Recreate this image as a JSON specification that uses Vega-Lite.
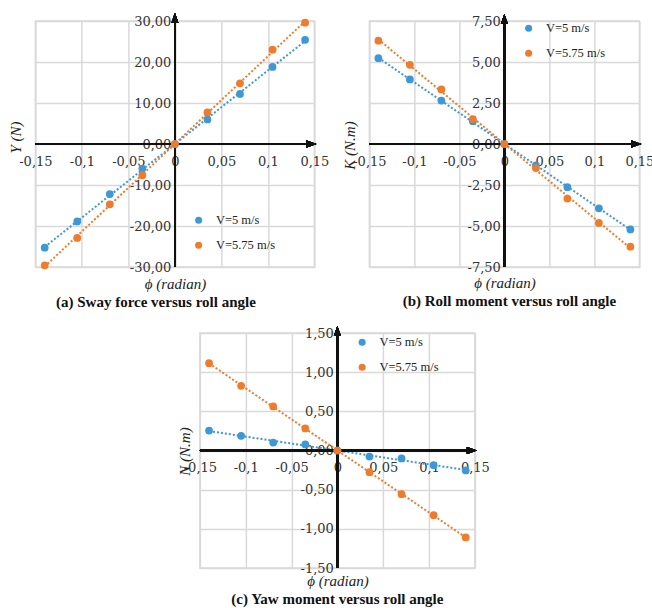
{
  "$schema": "https://vega.github.io/schema/vega-lite/v6.json",
  "background": "white",
  "padding": {"left": 7, "top": 12, "right": 5, "bottom": 5},
  "spacing": 14,
  "center": true,
  "resolve": {"scale": {"color": "independent"}, "legend": {"color": "independent"}},
  "datasets": {
    "sway": [
      {"phi": -0.14, "speed": "V=5 m/s", "value": -25.3},
      {"phi": -0.105, "speed": "V=5 m/s", "value": -18.9},
      {"phi": -0.07, "speed": "V=5 m/s", "value": -12.2},
      {"phi": -0.035, "speed": "V=5 m/s", "value": -6.0},
      {"phi": 0, "speed": "V=5 m/s", "value": 0},
      {"phi": 0.035, "speed": "V=5 m/s", "value": 6.0},
      {"phi": 0.07, "speed": "V=5 m/s", "value": 12.2},
      {"phi": 0.105, "speed": "V=5 m/s", "value": 18.8},
      {"phi": 0.14, "speed": "V=5 m/s", "value": 25.4},
      {"phi": -0.14, "speed": "V=5.75 m/s", "value": -29.6},
      {"phi": -0.105, "speed": "V=5.75 m/s", "value": -22.9},
      {"phi": -0.07, "speed": "V=5.75 m/s", "value": -14.7},
      {"phi": -0.035, "speed": "V=5.75 m/s", "value": -7.6},
      {"phi": 0, "speed": "V=5.75 m/s", "value": 0},
      {"phi": 0.035, "speed": "V=5.75 m/s", "value": 7.7},
      {"phi": 0.07, "speed": "V=5.75 m/s", "value": 14.8},
      {"phi": 0.105, "speed": "V=5.75 m/s", "value": 23.0},
      {"phi": 0.14, "speed": "V=5.75 m/s", "value": 29.6}
    ],
    "roll": [
      {"phi": -0.14, "speed": "V=5 m/s", "value": 5.23},
      {"phi": -0.105, "speed": "V=5 m/s", "value": 3.94},
      {"phi": -0.07, "speed": "V=5 m/s", "value": 2.65},
      {"phi": -0.035, "speed": "V=5 m/s", "value": 1.39},
      {"phi": 0, "speed": "V=5 m/s", "value": 0},
      {"phi": 0.035, "speed": "V=5 m/s", "value": -1.31},
      {"phi": 0.07, "speed": "V=5 m/s", "value": -2.63},
      {"phi": 0.105, "speed": "V=5 m/s", "value": -3.92},
      {"phi": 0.14, "speed": "V=5 m/s", "value": -5.21},
      {"phi": -0.14, "speed": "V=5.75 m/s", "value": 6.3},
      {"phi": -0.105, "speed": "V=5.75 m/s", "value": 4.83},
      {"phi": -0.07, "speed": "V=5.75 m/s", "value": 3.33},
      {"phi": -0.035, "speed": "V=5.75 m/s", "value": 1.52},
      {"phi": 0, "speed": "V=5.75 m/s", "value": 0},
      {"phi": 0.035, "speed": "V=5.75 m/s", "value": -1.47},
      {"phi": 0.07, "speed": "V=5.75 m/s", "value": -3.33},
      {"phi": 0.105, "speed": "V=5.75 m/s", "value": -4.81},
      {"phi": 0.14, "speed": "V=5.75 m/s", "value": -6.26}
    ],
    "yaw": [
      {"phi": -0.14, "speed": "V=5 m/s", "value": 0.255},
      {"phi": -0.105, "speed": "V=5 m/s", "value": 0.187},
      {"phi": -0.07, "speed": "V=5 m/s", "value": 0.102},
      {"phi": -0.035, "speed": "V=5 m/s", "value": 0.077},
      {"phi": 0, "speed": "V=5 m/s", "value": 0},
      {"phi": 0.035, "speed": "V=5 m/s", "value": -0.077},
      {"phi": 0.07, "speed": "V=5 m/s", "value": -0.102},
      {"phi": 0.105, "speed": "V=5 m/s", "value": -0.187},
      {"phi": 0.14, "speed": "V=5 m/s", "value": -0.255},
      {"phi": -0.14, "speed": "V=5.75 m/s", "value": 1.115},
      {"phi": -0.105, "speed": "V=5.75 m/s", "value": 0.826},
      {"phi": -0.07, "speed": "V=5.75 m/s", "value": 0.562},
      {"phi": -0.035, "speed": "V=5.75 m/s", "value": 0.281},
      {"phi": 0, "speed": "V=5.75 m/s", "value": 0},
      {"phi": 0.035, "speed": "V=5.75 m/s", "value": -0.277},
      {"phi": 0.07, "speed": "V=5.75 m/s", "value": -0.557},
      {"phi": 0.105, "speed": "V=5.75 m/s", "value": -0.826},
      {"phi": 0.14, "speed": "V=5.75 m/s", "value": -1.11}
    ]
  },
  "vconcat": [
    {
      "hconcat": [
        {
          "width": 279,
          "height": 246,
          "data": {"name": "sway"},
          "title": {"text": "(a) Sway force versus roll angle", "orient": "bottom", "frame": "group", "offset": 4, "dx": -19},
          "layer": [
            {
              "mark": {"type": "line", "strokeDash": [2, 2], "strokeWidth": 2},
              "transform": [{"regression": "value", "on": "phi", "groupby": ["speed"]}],
              "encoding": {
                "x": {"field": "phi", "type": "quantitative", "scale": {"domain": [-0.15, 0.15], "nice": false, "zero": false},
                      "axis": {"values": [-0.15, -0.1, -0.05, 0, 0.05, 0.1, 0.15], "tickCount": 10, "format": ".2~f", "labelOverlap": false, "offset": -123, "title": "ϕ (radian)", "titleY": 139}},
                "y": {"field": "value", "type": "quantitative", "scale": {"domain": [-30, 30], "nice": false},
                      "axis": {"values": [-30, -20, -10, 0, 10, 20, 30], "tickCount": 10, "format": ".2f", "labelOverlap": false, "offset": -139.5, "title": "Y (N)", "titleX": -159.5, "titleY": 116}},
                "stroke": {"field": "speed", "type": "nominal", "scale": {"domain": ["V=5 m/s", "V=5.75 m/s"], "range": ["#3d98d8", "#ef7b2d"]}, "legend": null}
              }
            },
            {"mark": {"type": "rule", "color": "#111", "strokeWidth": 1.6}, "encoding": {"x": {"datum": 0}}},
            {"mark": {"type": "rule", "color": "#111", "strokeWidth": 1.6}, "encoding": {"y": {"datum": 0}}},
            {"mark": {"type": "point", "shape": "M0,-1L0.7,1L-0.7,1Z", "size": 100, "filled": true, "color": "#111", "opacity": 1, "yOffset": -3},
             "encoding": {"x": {"datum": 0}, "y": {"datum": 30}}},
            {"mark": {"type": "point", "shape": "M1,0L-1,-0.7L-1,0.7Z", "size": 100, "filled": true, "color": "#111", "opacity": 1, "xOffset": -3},
             "encoding": {"x": {"datum": 0.15}, "y": {"datum": 0}}},
            {
              "mark": {"type": "point", "filled": true, "size": 60, "opacity": 1},
              "encoding": {
                "x": {"field": "phi", "type": "quantitative"},
                "y": {"field": "value", "type": "quantitative"},
                "color": {"field": "speed", "type": "nominal", "scale": {"domain": ["V=5 m/s", "V=5.75 m/s"], "range": ["#3d98d8", "#ef7b2d"]},
                          "legend": {"legendX": 157, "legendY": 193}}
              }
            }
          ]
        },
        {
          "width": 270,
          "height": 246,
          "data": {"name": "roll"},
          "title": {"text": "(b) Roll moment versus roll angle", "orient": "bottom", "frame": "group", "offset": 4, "dx": 5},
          "layer": [
            {
              "mark": {"type": "line", "strokeDash": [2, 2], "strokeWidth": 2},
              "transform": [{"regression": "value", "on": "phi", "groupby": ["speed"]}],
              "encoding": {
                "x": {"field": "phi", "type": "quantitative", "scale": {"domain": [-0.15, 0.15], "nice": false, "zero": false},
                      "axis": {"values": [-0.15, -0.1, -0.05, 0, 0.05, 0.1, 0.15], "tickCount": 10, "format": ".2~f", "labelOverlap": false, "offset": -123, "title": "ϕ (radian)", "titleY": 138}},
                "y": {"field": "value", "type": "quantitative", "scale": {"domain": [-7.5, 7.5], "nice": false},
                      "axis": {"values": [-7.5, -5, -2.5, 0, 2.5, 5, 7.5], "tickCount": 10, "format": ".2f", "labelOverlap": false, "offset": -135, "title": "K (N.m)", "titleX": -155, "titleY": 124}},
                "stroke": {"field": "speed", "type": "nominal", "scale": {"domain": ["V=5 m/s", "V=5.75 m/s"], "range": ["#3d98d8", "#ef7b2d"]}, "legend": null}
              }
            },
            {"mark": {"type": "rule", "color": "#111", "strokeWidth": 1.6}, "encoding": {"x": {"datum": 0}}},
            {"mark": {"type": "rule", "color": "#111", "strokeWidth": 1.6}, "encoding": {"y": {"datum": 0}}},
            {"mark": {"type": "point", "shape": "M0,-1L0.7,1L-0.7,1Z", "size": 100, "filled": true, "color": "#111", "opacity": 1, "yOffset": -2},
             "encoding": {"x": {"datum": 0}, "y": {"datum": 7.5}}},
            {"mark": {"type": "point", "shape": "M1,0L-1,-0.7L-1,0.7Z", "size": 100, "filled": true, "color": "#111", "opacity": 1, "xOffset": -3},
             "encoding": {"x": {"datum": 0.15}, "y": {"datum": 0}}},
            {
              "mark": {"type": "point", "filled": true, "size": 60, "opacity": 1},
              "encoding": {
                "x": {"field": "phi", "type": "quantitative"},
                "y": {"field": "value", "type": "quantitative"},
                "color": {"field": "speed", "type": "nominal", "scale": {"domain": ["V=5 m/s", "V=5.75 m/s"], "range": ["#3d98d8", "#ef7b2d"]},
                          "legend": {"legendX": 153, "legendY": 1}}
              }
            }
          ]
        }
      ],
      "spacing": 55,
      "bounds": "flush",
      "resolve": {"scale": {"color": "independent"}, "legend": {"color": "independent"}}
    },
    {
      "width": 275,
      "height": 235,
      "data": {"name": "yaw"},
      "title": {"text": "(c) Yaw moment versus roll angle", "orient": "bottom", "frame": "group", "offset": 3, "dx": 0},
      "layer": [
        {
          "mark": {"type": "line", "strokeDash": [2, 2], "strokeWidth": 2},
          "transform": [{"regression": "value", "on": "phi", "groupby": ["speed"]}],
          "encoding": {
            "x": {"field": "phi", "type": "quantitative", "scale": {"domain": [-0.15, 0.15], "nice": false, "zero": false},
                  "axis": {"values": [-0.15, -0.1, -0.05, 0, 0.05, 0.1, 0.15], "tickCount": 10, "format": ".2~f", "labelOverlap": false, "offset": -117.5, "title": "ϕ (radian)", "titleY": 130}},
            "y": {"field": "value", "type": "quantitative", "scale": {"domain": [-1.5, 1.5], "nice": false},
                  "axis": {"values": [-1.5, -1, -0.5, 0, 0.5, 1, 1.5], "tickCount": 10, "format": ".2f", "labelOverlap": false, "offset": -137.5, "title": "N (N.m)", "titleX": -152.5, "titleY": 118}},
            "stroke": {"field": "speed", "type": "nominal", "scale": {"domain": ["V=5 m/s", "V=5.75 m/s"], "range": ["#3d98d8", "#ef7b2d"]}, "legend": null}
          }
        },
        {"mark": {"type": "rule", "color": "#111", "strokeWidth": 1.6}, "encoding": {"x": {"datum": 0}}},
        {"mark": {"type": "rule", "color": "#111", "strokeWidth": 1.6}, "encoding": {"y": {"datum": 0}}},
        {"mark": {"type": "point", "shape": "M0,-1L0.7,1L-0.7,1Z", "size": 100, "filled": true, "color": "#111", "opacity": 1, "yOffset": -2},
         "encoding": {"x": {"datum": 0}, "y": {"datum": 1.5}}},
        {"mark": {"type": "point", "shape": "M1,0L-1,-0.7L-1,0.7Z", "size": 100, "filled": true, "color": "#111", "opacity": 1, "xOffset": -3},
         "encoding": {"x": {"datum": 0.15}, "y": {"datum": 0}}},
        {
          "mark": {"type": "point", "filled": true, "size": 60, "opacity": 1},
          "encoding": {
            "x": {"field": "phi", "type": "quantitative"},
            "y": {"field": "value", "type": "quantitative"},
            "color": {"field": "speed", "type": "nominal", "scale": {"domain": ["V=5 m/s", "V=5.75 m/s"], "range": ["#3d98d8", "#ef7b2d"]},
                      "legend": {"legendX": 156, "legendY": 3}}
          }
        }
      ]
    }
  ],
  "config": {
    "locale": {"number": {"decimal": ",", "thousands": ".", "grouping": [3], "currency": ["", ""], "minus": "-"}},
    "view": {"stroke": "#d9d9d9", "strokeWidth": 1.5},
    "axis": {
      "grid": true,
      "gridColor": "#d9d9d9",
      "gridWidth": 1.5,
      "domain": false,
      "ticks": false,
      "labelFont": "DejaVu Serif",
      "labelFontSize": 13,
      "labelColor": "#333",
      "labelOverlap": false,
      "labelFlush": false,
      "titleFont": "Liberation Serif",
      "titleFontStyle": "italic",
      "titleFontWeight": "normal",
      "titleFontSize": 15,
      "titleColor": "#222",
      "titleBaseline": "middle",
      "titleAlign": "center"
    },
    "axisX": {"labelPadding": 11},
    "axisY": {"labelPadding": 4, "titleAngle": -90},
    "legend": {
      "orient": "none",
      "title": null,
      "symbolType": "circle",
      "symbolSize": 50,
      "labelFont": "Liberation Serif",
      "labelFontSize": 12.5,
      "labelColor": "#222",
      "labelOffset": 11,
      "rowPadding": 12,
      "padding": 0
    },
    "title": {"font": "Liberation Serif", "fontWeight": "bold", "fontSize": 15, "color": "#111", "anchor": "middle"}
  }
}
